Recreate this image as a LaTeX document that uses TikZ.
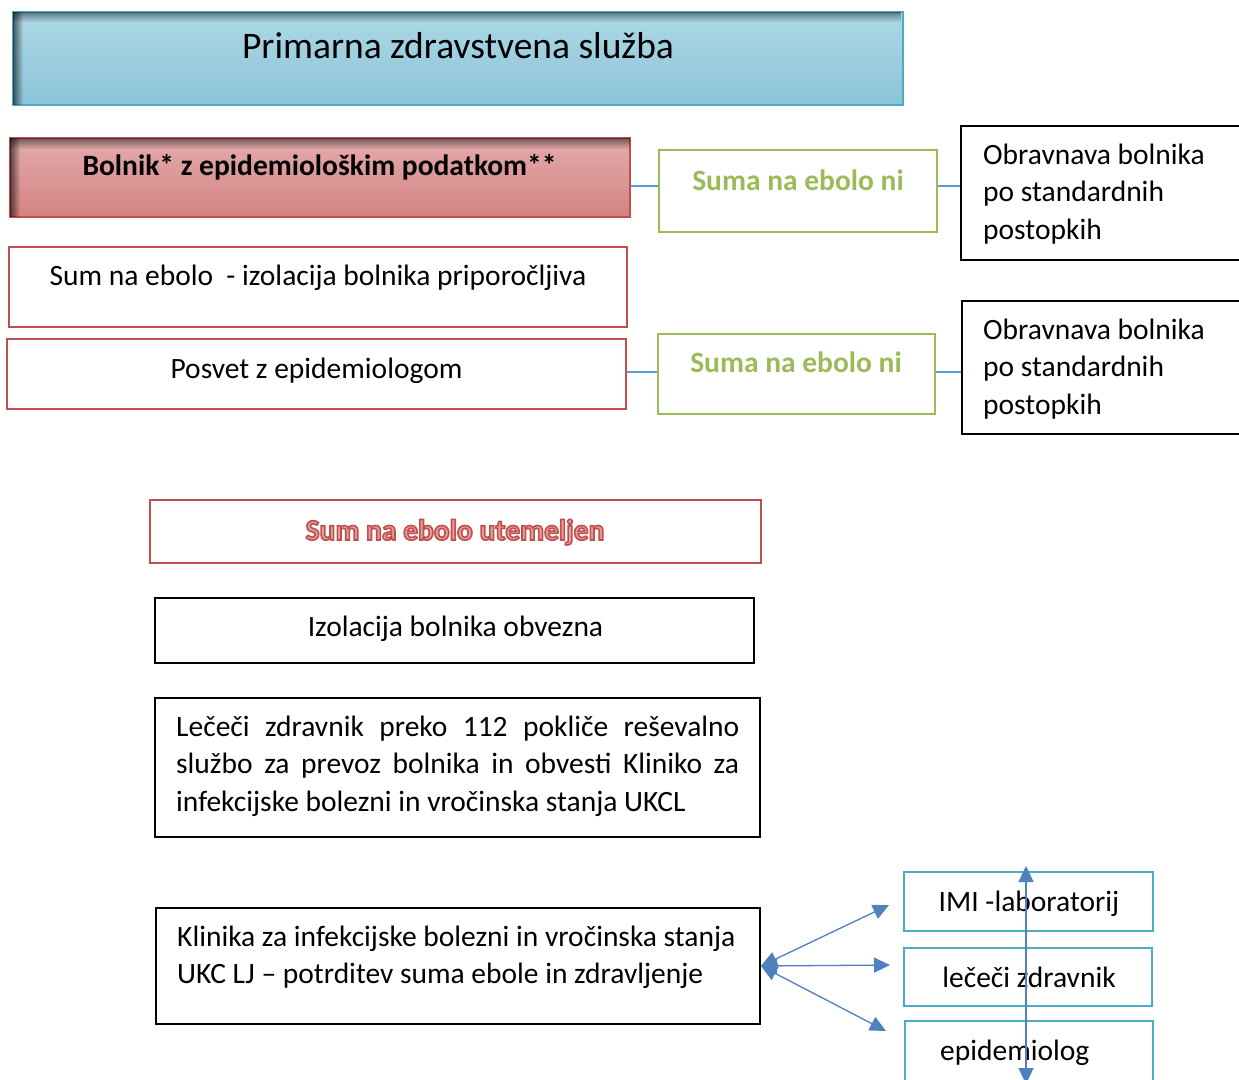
\documentclass[tikz,border=0pt]{standalone}
\usepackage{fontspec}
\setmainfont{Carlito}
\usetikzlibrary{arrows.meta,fadings,backgrounds}
\definecolor{titleTop}{HTML}{ADD8E6}
\definecolor{titleBot}{HTML}{8CC4D8}
\definecolor{titleLine}{HTML}{4BACC6}
\definecolor{pinkTop}{HTML}{E3ABAB}
\definecolor{pinkBot}{HTML}{D38482}
\definecolor{redLine}{HTML}{C0504D}
\definecolor{greenLine}{HTML}{9BBB59}
\definecolor{cyanLine}{HTML}{4BACC6}
\definecolor{mainBlue}{HTML}{5B9BD5}
\definecolor{arrBlue}{HTML}{4F81BD}
\definecolor{outlineFill}{HTML}{E39D9B}
\newcommand\bodyfont{\fontsize{29.5}{37.5}\selectfont}
\newcommand\titlefont{\fontsize{37.5}{44}\selectfont}
\newcommand\outlinetext[1]{{\color{outlineFill}\special{pdf:literal direct 0.753 0.314 0.302 RG 1.6 w 2 Tr}#1\special{pdf:literal direct 0 Tr}}}
\tikzset{
  box/.style={draw=#1, line width=2.5pt, fill=white, inner sep=0pt},
  blackbox/.style={draw=black, line width=2pt, fill=white, inner sep=0pt},
  txt/.style={font=\bodyfont, inner sep=0pt, anchor=base},
  thinconn/.style={draw=mainBlue, line width=1.2pt},
  arr/.style={draw=arrBlue, line width=1.3pt, {Triangle[length=16pt,width=15pt]}-{Triangle[length=16pt,width=15pt]}},
}
\begin{document}
\begin{tikzpicture}[x=1pt,y=-1pt]
\useasboundingbox (0,0) rectangle (1239,1079);
\clip (0,0) rectangle (1239,1079);
\fill[white] (0,0) rectangle (1239,1079);

% title box
\node[draw=titleLine, line width=1.5pt, top color=titleTop, bottom color=titleBot, minimum width=890pt, minimum height=93pt, inner sep=0pt] (title) at (458,58.5) {};
\fill[black, path fading=east, opacity=0.6] (13,12) rectangle (23,105);
\fill[black, path fading=south, opacity=0.45] (13,12) rectangle (903,22);
\node[font=\titlefont, inner sep=0pt, anchor=base] (titleT) at (458,58) {Primarna zdravstvena služba};

% Bolnik box
\node[draw=redLine, line width=1.5pt, top color=pinkTop, bottom color=pinkBot, minimum width=620pt, minimum height=79pt, inner sep=0pt] (bolnik) at (320,177.5) {};
\fill[black, path fading=east, opacity=0.6] (10,138) rectangle (20,217);
\fill[black, path fading=south, opacity=0.5] (10,138) rectangle (630,149);
\node[txt, font=\bodyfont\bfseries] (bolnikT) at (319.5,175) {Bolnik* z epidemiološkim podatkom**};

% green boxes
\node[box=greenLine, minimum width=278pt, minimum height=82pt] (green1) at (798,191) {};
\node[txt, font=\bodyfont\bfseries, text=greenLine] (green1T) at (798,190) {Suma na ebolo ni};
\node[box=greenLine, minimum width=277pt, minimum height=80pt] (green2) at (796.5,374) {};
\node[txt, font=\bodyfont\bfseries, text=greenLine] (green2T) at (796,372) {Suma na ebolo ni};

% Obravnava boxes (anchor: baseline of last line)
\node[blackbox, minimum width=284pt, minimum height=134pt] (obr1) at (1103,193) {};
\node[txt, anchor=base west, align=left] (obr1T) at (983,239) {Obravnava bolnika\\po standardnih\\postopkih};
\node[blackbox, minimum width=283pt, minimum height=133pt] (obr2) at (1103.5,367.5) {};
\node[txt, anchor=base west, align=left] (obr2T) at (983,414) {Obravnava bolnika\\po standardnih\\postopkih};

% red boxes
\node[box=redLine, minimum width=618pt, minimum height=80pt] (sum) at (318,287) {};
\node[txt] (sumT) at (318,285) {Sum na ebolo\ \ - izolacija bolnika priporočljiva};
\node[box=redLine, minimum width=619pt, minimum height=70pt] (posvet) at (316.5,374) {};
\node[txt] (posvetT) at (316.5,378) {Posvet z epidemiologom};

\node[box=redLine, minimum width=611pt, minimum height=63pt] (utem) at (455.5,531.5) {};
\node[txt, font=\bodyfont\bfseries] (utemT) at (455,540) {\outlinetext{Sum na ebolo utemeljen}};

% black boxes
\node[blackbox, minimum width=599pt, minimum height=65pt] (izol) at (454.5,630.5) {};
\node[txt] (izolT) at (455.5,636) {Izolacija bolnika obvezna};
\node[blackbox, minimum width=605pt, minimum height=139pt] (lecec) at (457.5,767.5) {};
\node[txt, anchor=base west, text width=563pt, align=justify] (lececT) at (176,736) {\hyphenpenalty=10000 Lečeči zdravnik preko 112 pokliče reševalno\linebreak službo za prevoz bolnika in obvesti Kliniko za\linebreak infekcijske bolezni in vročinska stanja UKCL};
\node[blackbox, minimum width=604pt, minimum height=116pt] (klin) at (458,966) {};
\node[txt, anchor=base west, align=left] (klinT) at (177,983.5) {Klinika za infekcijske bolezni in vročinska stanja\\UKC LJ – potrditev suma ebole in zdravljenje};

% cyan boxes
\node[box=cyanLine, minimum width=249pt, minimum height=59pt] (imi) at (1028.5,901.5) {};
\node[txt] (imiT) at (1029,911) {IMI -laboratorij};
\node[box=cyanLine, minimum width=248pt, minimum height=58pt] (lz) at (1028,977) {};
\node[txt] (lzT) at (1029,987) {lečeči zdravnik};
\node[box=cyanLine, minimum width=248pt, minimum height=79pt] (epi) at (1029,1060.5) {};
\node[txt, anchor=base west] (epiT) at (940,1060) {epidemiolog};

% main vertical line
\begin{pgfonlayer}{background}
\coordinate (vtop) at (458,124);
\draw[draw=mainBlue, line width=4pt] (vtop) -- (klin.north);
\end{pgfonlayer}

% thin connectors
\draw[thinconn] (bolnik.east |- 0,186) -- (green1.west |- 0,186);
\draw[thinconn] (green1.east |- 0,186) -- (obr1.west |- 0,186);
\draw[thinconn] (posvet.east |- 0,372) -- (green2.west |- 0,372);
\draw[thinconn] (green2.east |- 0,372) -- (obr2.west |- 0,372);

% arrows
\coordinate (a1) at (889,905);
\coordinate (a2) at (890,965);
\coordinate (a3) at (886,1031);
\draw[arr] (klin.east) -- (a1);
\draw[arr] (klin.east) -- (a2);
\draw[arr] (klin.east) -- (a3);
\coordinate (vt) at (1026,866);
\coordinate (vb) at (1026,1084);
\draw[arr] (vt) -- (vb);
\end{tikzpicture}
\end{document}
